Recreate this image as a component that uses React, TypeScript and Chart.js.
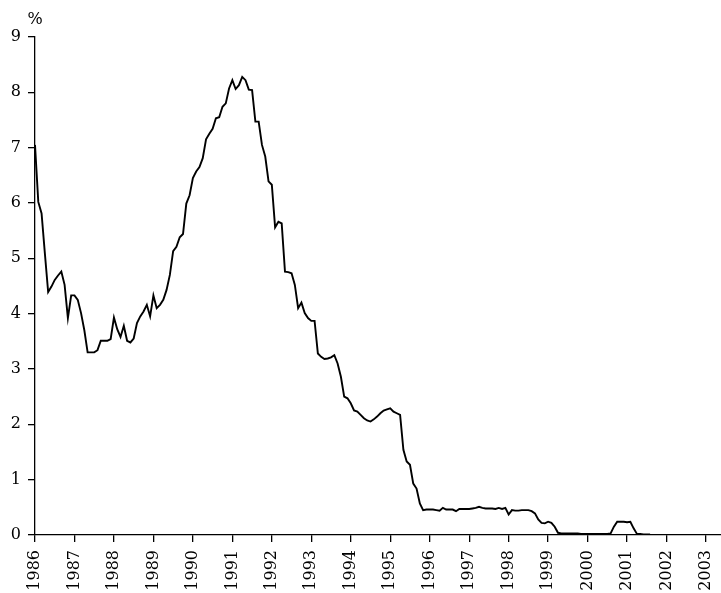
import React, { useEffect, useRef } from 'react';
import Chart from 'chart.js/auto';

// monthly average rate, Jan 1986 .. Aug 2001 (%)
const START_YEAR = 1986;
const rateValues = [
  7.05, 6.02, 5.81, 5.09, 4.39, 4.49, 4.61, 4.69, 4.76, 4.52, 3.92, 4.33,
  4.33, 4.25, 4.01, 3.70, 3.30, 3.30, 3.30, 3.34, 3.51, 3.51, 3.51, 3.54,
  3.93, 3.72, 3.58, 3.78, 3.51, 3.48, 3.55, 3.83, 3.95, 4.04, 4.16, 3.95,
  4.33, 4.10, 4.16, 4.25, 4.43, 4.70, 5.13, 5.21, 5.38, 5.44, 5.99, 6.14,
  6.45, 6.57, 6.65, 6.81, 7.15, 7.25, 7.34, 7.53, 7.55, 7.74, 7.80, 8.07,
  8.22, 8.06, 8.13, 8.28, 8.22, 8.05, 8.04, 7.47, 7.47, 7.05, 6.84, 6.39,
  6.33, 5.56, 5.66, 5.63, 4.76, 4.75, 4.73, 4.52, 4.10, 4.20, 4.01, 3.92,
  3.87, 3.87, 3.28, 3.22, 3.18, 3.19, 3.21, 3.25, 3.10, 2.86, 2.50, 2.47,
  2.38, 2.25, 2.23, 2.17, 2.11, 2.07, 2.05, 2.09, 2.14, 2.20, 2.25, 2.27,
  2.29, 2.23, 2.20, 2.17, 1.54, 1.33, 1.27, 0.93, 0.84, 0.57, 0.45, 0.46,
  0.46, 0.46, 0.45, 0.44, 0.49, 0.46, 0.46, 0.46, 0.43, 0.47, 0.47, 0.47,
  0.47, 0.48, 0.49, 0.51, 0.49, 0.48, 0.48, 0.48, 0.47, 0.49, 0.47, 0.49,
  0.37, 0.45, 0.44, 0.44, 0.45, 0.45, 0.45, 0.43, 0.39, 0.28, 0.22, 0.21,
  0.24, 0.22, 0.15, 0.04, 0.03, 0.03, 0.03, 0.03, 0.03, 0.03, 0.02, 0.02,
  0.02, 0.02, 0.02, 0.02, 0.02, 0.02, 0.02, 0.03, 0.15, 0.24, 0.24, 0.24,
  0.23, 0.24, 0.12, 0.02, 0.02, 0.01, 0.01, 0.01,
];
const yearTicks = [1986, 1987, 1988, 1989, 1990, 1991, 1992, 1993, 1994, 1995,
  1996, 1997, 1998, 1999, 2000, 2001, 2002, 2003];
const yTicks = [0, 1, 2, 3, 4, 5, 6, 7, 8, 9];

const FONT = "'DejaVu Serif', serif";

const percentLabel = {
  id: 'percentLabel',
  afterDraw(chart: Chart) {
    const { ctx, chartArea } = chart;
    ctx.save();
    ctx.fillStyle = '#000';
    ctx.font = `16px ${FONT}`;
    ctx.textAlign = 'center';
    ctx.textBaseline = 'middle';
    ctx.fillText('%', chartArea.left, chartArea.top - 17);
    ctx.restore();
  },
};

const App = () => {
  const chartRef = useRef<HTMLCanvasElement>(null);
  const chartInstance = useRef<Chart | null>(null);

  useEffect(() => {
    document.body.style.margin = '0';
    if (!chartRef.current) return;
    if (chartInstance.current) chartInstance.current.destroy();

    const points = rateValues.map((v, i) => ({ x: START_YEAR + i / 12, y: v }));

    chartInstance.current = new Chart(chartRef.current, {
      type: 'line',
      data: {
        datasets: [
          {
            data: points,
            borderColor: '#000',
            borderWidth: 1.9,
            pointRadius: 0,
            tension: 0,
            fill: false,
          },
        ],
      },
      options: {
        animation: false,
        responsive: true,
        maintainAspectRatio: false,
        layout: { padding: { top: 37, left: 0, right: 0, bottom: 0 } },
        plugins: {
          legend: { display: false },
          tooltip: { enabled: false },
        },
        scales: {
          x: {
            type: 'linear',
            min: 1986,
            max: 2003.38,
            afterBuildTicks: (scale: any) => {
              scale.ticks = yearTicks.map((v) => ({ value: v }));
            },
            afterFit: (scale: any) => {
              scale.height = 58;
              scale.paddingLeft = 0;
              scale.paddingRight = 0;
            },
            grid: {
              display: true,
              drawOnChartArea: false,
              drawTicks: true,
              tickLength: 7,
              color: '#000',
              lineWidth: 1.3,
            },
            border: { display: true, color: '#000', width: 1.3 },
            ticks: {
              minRotation: 90,
              maxRotation: 90,
              padding: 8,
              color: '#000',
              font: { family: FONT, size: 16 },
              callback: (v: any) => String(v),
            },
          },
          y: {
            min: 0,
            max: 9,
            afterBuildTicks: (scale: any) => {
              scale.ticks = yTicks.map((v) => ({ value: v }));
            },
            afterFit: (scale: any) => {
              scale.width = 35;
            },
            grid: {
              display: true,
              drawOnChartArea: false,
              drawTicks: true,
              tickLength: 7,
              color: '#000',
              lineWidth: 1.3,
            },
            border: { display: true, color: '#000', width: 1.3 },
            ticks: {
              padding: 7,
              color: '#000',
              font: { family: FONT, size: 16 },
            },
          },
        },
      },
      plugins: [percentLabel],
    });

    return () => {
      if (chartInstance.current) {
        chartInstance.current.destroy();
        chartInstance.current = null;
      }
    };
  }, []);

  return (
    <div style={{ position: 'relative', width: 721, height: 593 }}>
      <canvas ref={chartRef}></canvas>
    </div>
  );
};

export default App;
